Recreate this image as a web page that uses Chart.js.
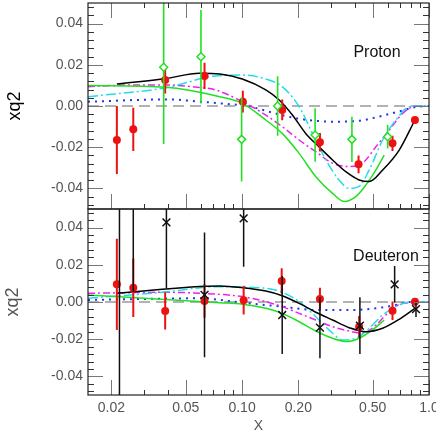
<!DOCTYPE html>
<html><head><meta charset="utf-8">
<script src="https://cdn.jsdelivr.net/npm/chart.js@4.4.1/dist/chart.umd.min.js"></script>
<style>
html,body{margin:0;padding:0;background:#fff;}
#wrap{position:relative;width:436px;height:436px;background:#fff;overflow:hidden;}
#wrap canvas{position:absolute;left:0;top:0;}
</style></head><body>
<div id="wrap"><canvas id="cTop" width="436" height="436"></canvas><canvas id="cBot" width="436" height="436"></canvas></div>
<script>
// ---- axes ----
const xMin = 0.015, xMax = 1.0, yMin = -0.05, yMax = 0.05;
const xTickValues = [0.02, 0.05, 0.1, 0.2, 0.5, 1.0];
const xTickLabels = ['0.02', '0.05', '0.10', '0.20', '0.50', '1.0'];
const xMinorTicks = [0.03, 0.04, 0.06, 0.07, 0.08, 0.09, 0.3, 0.4, 0.6, 0.7, 0.8, 0.9];
const yTickValues = [-0.04, -0.02, 0, 0.02, 0.04];
const yTickLabels = ['-0.04', '-0.02', '0.00', '0.02', '0.04'];
const yMinorTicks = [-0.048,-0.044,-0.036,-0.032,-0.028,-0.024,-0.016,-0.012,-0.008,-0.004,0.004,0.008,0.012,0.016,0.024,0.028,0.032,0.036,0.044,0.048];
const zeroLineX = [0.015, 1.0];
const zeroLineY = [0, 0];

// ---- Proton data ----
const protonRedX   = [0.0214, 0.0262, 0.0388, 0.063, 0.101, 0.164, 0.261, 0.42, 0.638, 0.841];
const protonRedY   = [-0.0165, -0.0113, 0.0126, 0.0146, 0.0021, -0.0019, -0.0176, -0.0283, -0.0181, -0.0068];
const protonRedErr = [0.0165, 0.0105, 0.0065, 0.0064, 0.0053, 0.005, 0.0045, 0.0043, 0.0037, 0.0012];
const protonGreenX   = [0.0381, 0.0603, 0.0995, 0.155, 0.246, 0.387, 0.601];
const protonGreenY   = [0.0188, 0.0239, -0.0162, 0.0, -0.0141, -0.0162, -0.0149];
const protonGreenErr = [0.0372, 0.0227, 0.0205, 0.0145, 0.013, 0.011, 0.0057];

const protonBlackX = [0.0214, 0.0394, 0.0592, 0.076, 0.1004, 0.134, 0.158, 0.186, 0.219, 0.258, 0.305, 0.359, 0.423, 0.479, 0.565, 0.693, 0.841];
const protonBlackY = [0.0107, 0.0134, 0.0159, 0.0155, 0.0131, 0.0078, 0.0029, -0.0044, -0.0133, -0.0198, -0.0262, -0.0319, -0.0359, -0.0367, -0.0311, -0.0214, -0.0068];
const protonGreenCurveX = [0.015, 0.0394, 0.076, 0.1004, 0.134, 0.164, 0.202, 0.248, 0.305, 0.352, 0.406, 0.46, 0.52, 0.576];
const protonGreenCurveY = [0.0100, 0.0091, 0.0045, 0.0013, -0.0068, -0.0133, -0.023, -0.0343, -0.0424, -0.0464, -0.044, -0.0383, -0.031, -0.0238];
const protonCyanX = [0.015, 0.04, 0.0722, 0.1004, 0.134, 0.164, 0.202, 0.238, 0.281, 0.330, 0.374, 0.423, 0.479, 0.565, 0.666, 0.784, 0.88, 1.0];
const protonCyanY = [0.0045, 0.009, 0.0146, 0.015, 0.0131, 0.0094, -0.0003, -0.0133, -0.0262, -0.0359, -0.040, -0.039, -0.031, -0.0165, -0.0068, -0.0003, 0, 0];
const protonMagentaX = [0.015, 0.026, 0.0394, 0.0592, 0.0722, 0.1004, 0.134, 0.164, 0.202, 0.248, 0.305, 0.374, 0.441, 0.52, 0.613, 0.723, 0.852, 1.0];
const protonMagentaY = [0.0094, 0.0102, 0.0102, 0.009, 0.0078, 0.0021, -0.0044, -0.01, -0.0165, -0.0222, -0.0278, -0.0294, -0.0278, -0.0198, -0.0117, -0.0036, 0, 0];
const protonBlueX = [0.015, 0.04, 0.06, 0.076, 0.109, 0.152, 0.202, 0.305, 0.41, 0.565, 0.72, 0.85, 1.0];
const protonBlueY = [0.0021, 0.0032, 0.0021, 0.0013, -0.0002, -0.0037, -0.0062, -0.0076, -0.0073, -0.0047, -0.0022, -0.0005, 0];

// ---- Deuteron data ----
const deutRedX   = [0.0214, 0.0262, 0.0388, 0.063, 0.102, 0.163, 0.261, 0.423, 0.638, 0.841];
const deutRedY   = [0.0095, 0.0077, -0.0048, 0.0005, 0.001, 0.0113, 0.0016, -0.0133, -0.0047, 0.0002];
const deutRedErr = [0.0245, 0.0157, 0.01, 0.009, 0.0077, 0.0068, 0.006, 0.0058, 0.005, 0.002];
const deutBlackX   = [0.0221, 0.0262, 0.0394, 0.063, 0.102, 0.164, 0.261, 0.427, 0.655, 0.852];
const deutBlackY   = [0.075, 0.062, 0.0428, 0.0038, 0.045, -0.007, -0.0138, -0.0127, 0.0095, -0.0038];
const deutBlackErr = [0.135, 0.0565, 0.0354, 0.0335, 0.026, 0.021, 0.0165, 0.0153, 0.0098, 0.0042];

const deutBlackCurveX = [0.0214, 0.076, 0.1004, 0.134, 0.164, 0.202, 0.248, 0.305, 0.374, 0.46, 0.565, 0.693, 0.841];
const deutBlackCurveY = [0.0047, 0.0086, 0.0077, 0.0059, 0.0034, -0.0007, -0.0055, -0.0097, -0.0138, -0.016, -0.0141, -0.0093, -0.0034];
const deutGreenCurveX = [0.015, 0.076, 0.1004, 0.134, 0.164, 0.202, 0.248, 0.305, 0.367, 0.423, 0.499, 0.576];
const deutGreenCurveY = [0.0038, -0.0004, -0.0012, -0.0034, -0.0061, -0.0106, -0.0156, -0.0195, -0.0213, -0.0195, -0.015, -0.0097];
const deutCyanX = [0.015, 0.04, 0.0722, 0.134, 0.164, 0.202, 0.248, 0.305, 0.345, 0.406, 0.479, 0.565, 0.693, 0.784, 1.0];
const deutCyanY = [0.002, 0.0055, 0.0082, 0.0074, 0.0052, 0.0002, -0.0079, -0.0168, -0.0204, -0.0195, -0.0141, -0.007, -0.0016, 0, 0];
const deutMagentaX = [0.015, 0.0394, 0.076, 0.1004, 0.134, 0.164, 0.202, 0.248, 0.305, 0.374, 0.441, 0.52, 0.613, 0.723, 1.0];
const deutMagentaY = [0.0047, 0.0052, 0.0041, 0.0029, 0.0002, -0.0025, -0.0061, -0.0097, -0.0133, -0.0156, -0.0168, -0.0124, -0.0052, -0.0007, 0];
const deutBlueX = [0.015, 0.063, 0.076, 0.109, 0.164, 0.248, 0.374, 0.52, 0.666, 0.784, 1.0];
const deutBlueY = [0.0011, 0.002, 0.0011, -0.0007, -0.0025, -0.0043, -0.0043, -0.0034, -0.0016, 0, 0];

// ---- styles ----
const RED = '#ee1111', GREEN = '#22e022', CYAN = '#22dde8', MAGENTA = '#ee22ee', BLUE = '#2233ee', BLACK = '#000000';
Chart.defaults.font.family = "'Liberation Sans', Arial, Helvetica, sans-serif";
Chart.defaults.animation = false;

function pts(xs, ys) { return xs.map((x, i) => ({x: x, y: ys[i]})); }
function errSet(xs, ys, es, color, width, order) {
  const data = [];
  xs.forEach((x, i) => { data.push({x: x, y: ys[i] - es[i]}, {x: x, y: ys[i] + es[i]}, {x: x, y: null}); });
  return {type: 'line', data: data, borderColor: color, borderWidth: width, pointRadius: 0, spanGaps: false, fill: false, order: order};
}
function markerSet(xs, ys, style, radius, color, fillColor, bw, order) {
  return {type: 'scatter', data: pts(xs, ys), pointStyle: style, pointRadius: radius, borderColor: color,
          backgroundColor: fillColor, borderWidth: bw, order: order};
}
function curveSet(xs, ys, color, dash, width, order) {
  return {type: 'line', data: pts(xs, ys), borderColor: color, borderDash: dash, borderWidth: width, pointRadius: 0,
          cubicInterpolationMode: 'monotone', fill: false, order: order};
}
function zeroSet() {
  return {type: 'line', data: pts(zeroLineX, zeroLineY), borderColor: '#999999', borderDash: [11, 6], borderWidth: 1.5, pointRadius: 0, fill: false, order: 100};
}

function decorPlugin(label, dx, dy, topTicks) {
  return {
    id: 'decor',
    afterDatasetsDraw(chart) {
      const ctx = chart.ctx, a = chart.chartArea, xs = chart.scales.x, ys = chart.scales.y;
      ctx.save();
      ctx.lineWidth = 1;
      const seg = (x1, y1, x2, y2, c) => { ctx.strokeStyle = c; ctx.beginPath(); ctx.moveTo(x1, y1); ctx.lineTo(x2, y2); ctx.stroke(); };
      xTickValues.forEach(v => { const p = Math.round(xs.getPixelForValue(v)) + 0.5;
        seg(p, a.bottom, p, a.bottom - 15, '#777'); if (topTicks) seg(p, a.top, p, a.top + 15, '#777'); });
      xMinorTicks.forEach(v => { const p = Math.round(xs.getPixelForValue(v)) + 0.5;
        seg(p, a.bottom, p, a.bottom - 5, '#333'); if (topTicks) seg(p, a.top, p, a.top + 5, '#333'); });
      yTickValues.forEach(v => { const p = Math.round(ys.getPixelForValue(v)) + 0.5;
        seg(a.left, p, a.left + 15, p, '#777'); seg(a.right, p, a.right - 15, p, '#777'); });
      yMinorTicks.forEach(v => { const p = Math.round(ys.getPixelForValue(v)) + 0.5;
        seg(a.left, p, a.left + 6, p, '#333'); seg(a.right, p, a.right - 6, p, '#333'); });
      ctx.strokeStyle = '#222'; ctx.lineWidth = 1.2;
      ctx.strokeRect(a.left, a.top, a.right - a.left, a.bottom - a.top);
      ctx.font = "16px 'Liberation Sans', Arial, sans-serif";
      ctx.fillStyle = '#111'; ctx.textAlign = 'center'; ctx.textBaseline = 'middle';
      ctx.fillText(label, a.right + dx, a.top + dy);
      ctx.restore();
    }
  };
}

function yAxis(titleColor, titlePad) {
  return {
    type: 'linear', min: yMin, max: yMax, position: 'left',
    afterBuildTicks: s => { s.ticks = yTickValues.map(v => ({value: v})); },
    afterFit: s => { s.width = 88; s.paddingTop = 0; s.paddingBottom = 0; },
    ticks: {callback: (v, i) => yTickLabels[i], color: '#555', font: {size: 14}, padding: 5, autoSkip: false},
    grid: {display: false, drawTicks: false},
    border: {display: false},
    title: {display: true, text: 'xq2', color: titleColor, font: {size: 18}, padding: {top: titlePad, bottom: 0}}
  };
}

const baseOpts = {
  responsive: false, maintainAspectRatio: false, devicePixelRatio: 1, animation: false, events: [],
  plugins: {legend: {display: false}, tooltip: {enabled: false}}
};

new Chart(document.getElementById('cTop'), {
  type: 'scatter',
  data: {datasets: [
    zeroSet(),
    curveSet(protonBlueX, protonBlueY, BLUE, [2, 5], 2, 45),
    curveSet(protonMagentaX, protonMagentaY, MAGENTA, [7, 3, 2, 3], 1.5, 44),
    curveSet(protonCyanX, protonCyanY, CYAN, [10, 3, 2, 3], 1.5, 43),
    curveSet(protonGreenCurveX, protonGreenCurveY, GREEN, [], 1.5, 42),
    curveSet(protonBlackX, protonBlackY, BLACK, [], 1.5, 41),
    errSet(protonRedX, protonRedY, protonRedErr, RED, 2, 20),
    markerSet(protonRedX, protonRedY, 'circle', 4, RED, RED, 0, 19),
    errSet(protonGreenX, protonGreenY, protonGreenErr, GREEN, 1.6, 10),
    markerSet(protonGreenX, protonGreenY, 'rectRot', 4, GREEN, '#ffffff', 1.5, 9)
  ]},
  options: Object.assign({}, baseOpts, {
    layout: {padding: {left: 0, top: 3, right: 7, bottom: 227}, autoPadding: false},
    scales: {
      x: {type: 'logarithmic', min: xMin, max: xMax, display: false},
      y: yAxis('#000', 4)
    }
  }),
  plugins: [decorPlugin('Proton', -52, 50, true)]
});

new Chart(document.getElementById('cBot'), {
  type: 'scatter',
  data: {datasets: [
    zeroSet(),
    curveSet(deutBlueX, deutBlueY, BLUE, [2, 5], 2, 45),
    curveSet(deutMagentaX, deutMagentaY, MAGENTA, [7, 3, 2, 3], 1.5, 44),
    curveSet(deutCyanX, deutCyanY, CYAN, [10, 3, 2, 3], 1.5, 43),
    curveSet(deutGreenCurveX, deutGreenCurveY, GREEN, [], 1.5, 42),
    curveSet(deutBlackCurveX, deutBlackCurveY, BLACK, [], 1.5, 41),
    errSet(deutRedX, deutRedY, deutRedErr, RED, 2, 20),
    markerSet(deutRedX, deutRedY, 'circle', 4, RED, RED, 0, 19),
    errSet(deutBlackX, deutBlackY, deutBlackErr, '#111', 1.5, 10),
    markerSet(deutBlackX, deutBlackY, 'crossRot', 5.5, '#111', '#111', 1.5, 9)
  ]},
  options: Object.assign({}, baseOpts, {
    layout: {padding: {left: 0, top: 209, right: 7, bottom: 0}, autoPadding: false},
    scales: {
      x: {
        type: 'logarithmic', min: xMin, max: xMax, position: 'bottom',
        afterBuildTicks: s => { s.ticks = xTickValues.map(v => ({value: v})); },
        afterFit: s => { s.height = 41; s.paddingLeft = 0; s.paddingRight = 0; },
        ticks: {callback: (v, i) => xTickLabels[i], color: '#555', font: {size: 14}, padding: 5, autoSkip: false, maxRotation: 0, minRotation: 0},
        grid: {display: false, drawTicks: false},
        border: {display: false},
        title: {display: true, text: 'X', color: '#555', font: {size: 14}, padding: {top: 0, bottom: 1}}
      },
      y: yAxis('#555', 2)
    }
  }),
  plugins: [decorPlugin('Deuteron', -43, 48, false)]
});
</script>
</body></html>
